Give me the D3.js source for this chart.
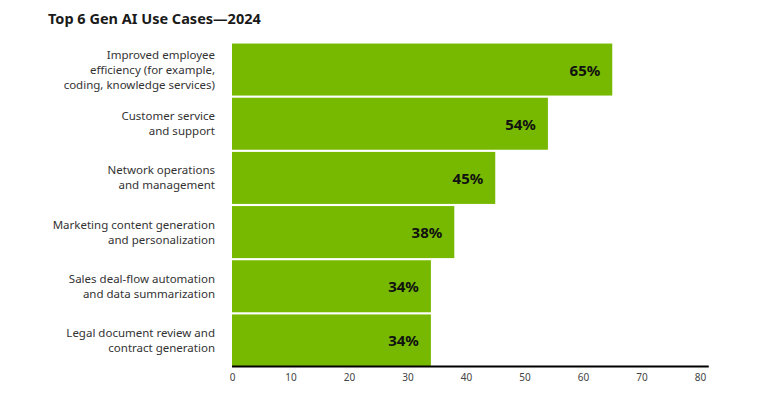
<!DOCTYPE html>
<html><head><meta charset="utf-8">
<script src="https://cdn.jsdelivr.net/npm/d3@7"></script>
<style>body{margin:0;background:#fff}</style>
</head><body>
<svg id="c" width="768" height="402"></svg>
<script>
const categories = [
  ["Improved employee", "efficiency (for example,", "coding, knowledge services)"],
  ["Customer service", "and support"],
  ["Network operations", "and management"],
  ["Marketing content generation", "and personalization"],
  ["Sales deal-flow automation", "and data summarization"],
  ["Legal document review and", "contract generation"]
];
const values = [65, 54, 45, 38, 34, 34];
const ticks = [0, 10, 20, 30, 40, 50, 60, 70, 80];

const svg = d3.select("#c").style("font-family", "'Noto Sans', sans-serif");
const x = d3.scaleLinear().domain([0, 80]).range([232, 700]);
const y = d3.scaleBand().domain(d3.range(values.length)).range([43, 367]).paddingInner(0.04).paddingOuter(0.01);

svg.append("text").attr("x", 48).attr("y", 24).attr("font-size", 14.5).attr("font-weight", "bold")
  .attr("fill", "#1a1a1a").text("Top 6 Gen AI Use Cases\u20142024");

svg.selectAll("rect.bar").data(values).join("rect")
  .attr("x", x(0)).attr("y", (d, i) => y(i)).attr("width", d => x(d) - x(0))
  .attr("height", y.bandwidth()).attr("fill", "#76b900");

svg.selectAll("text.val").data(values).join("text")
  .attr("x", d => x(d) - 12).attr("y", (d, i) => y(i) + y.bandwidth() / 2 + 6)
  .attr("text-anchor", "end").attr("font-size", 15).attr("font-weight", "bold").attr("fill", "#111")
  .text(d => d + "%");

categories.forEach((lines, i) => {
  const t = svg.append("text").attr("text-anchor", "end").attr("font-size", 11.5).attr("fill", "#333");
  const cy = y(i) + y.bandwidth() / 2;
  lines.forEach((l, j) => t.append("tspan").attr("x", 215)
    .attr("y", cy + (j - (lines.length - 1) / 2) * 15 + 4).text(l));
});

svg.append("line").attr("x1", x(0)).attr("x2", x(81.5)).attr("y1", 366.5).attr("y2", 366.5)
  .attr("stroke", "#000").attr("stroke-width", 2);

const ax = svg.append("g").attr("transform", "translate(0,368)")
  .call(d3.axisBottom(x).tickValues(ticks).tickSize(0).tickPadding(6));
ax.select(".domain").remove();
ax.selectAll("text").attr("font-size", 10).attr("fill", "#444").attr("font-family", "'Noto Sans', sans-serif");
</script>
</body></html>
